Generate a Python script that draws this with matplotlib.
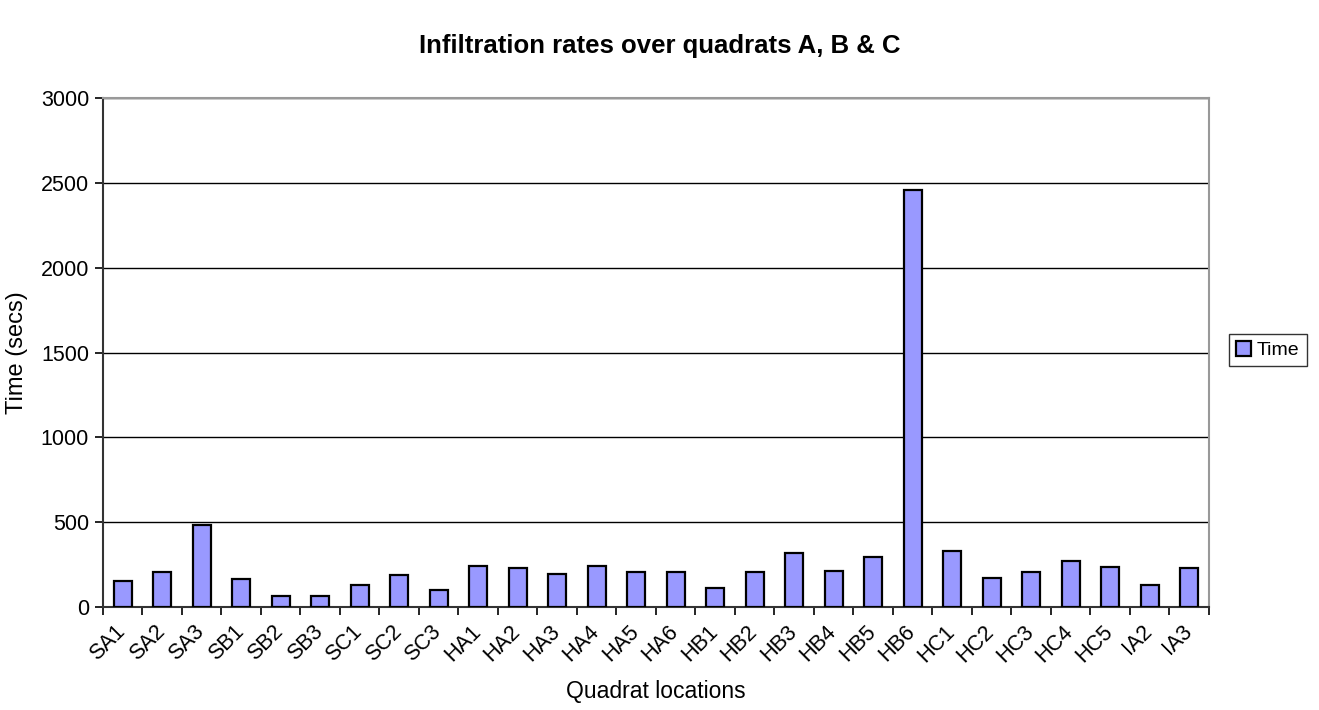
import numpy as np
import matplotlib
matplotlib.use('Agg')
import matplotlib.pyplot as plt
import matplotlib.transforms as mtransforms

plt.rcParams['font.family'] = ['Liberation Sans', 'DejaVu Sans']

locations = ['SA1', 'SA2', 'SA3', 'SB1', 'SB2', 'SB3', 'SC1', 'SC2', 'SC3',
             'HA1', 'HA2', 'HA3', 'HA4', 'HA5', 'HA6',
             'HB1', 'HB2', 'HB3', 'HB4', 'HB5', 'HB6',
             'HC1', 'HC2', 'HC3', 'HC4', 'HC5', 'IA2', 'IA3']
times = [156, 204, 482, 164, 65, 65, 128, 189, 103,
         239, 231, 194, 239, 207, 207,
         111, 207, 316, 215, 297, 2455,
         333, 172, 206, 269, 237, 129, 231]
y_ticks = [0, 500, 1000, 1500, 2000, 2500, 3000]


def plot_infiltration():
    fig = plt.figure(figsize=(13.19, 7.10), dpi=100)
    ax = fig.add_axes([0.078, 0.145, 0.8386, 0.717])

    x = np.arange(len(locations))
    ax.bar(x, times, width=0.45, color='#9999FF', edgecolor='black',
           linewidth=1.6, label='Time', zorder=3)

    ax.set_xlim(-0.5, len(locations) - 0.5)
    ax.set_ylim(0, 3000)
    ax.set_yticks(y_ticks)
    ax.yaxis.grid(True, color='black', linewidth=1.0, zorder=0)

    # category ticks sit between bars, labels under bar centres
    ax.set_xticks(np.arange(-0.5, len(locations) + 0.5, 1.0))
    ax.set_xticklabels([])
    ax.set_xticks(x, minor=True)
    ax.set_xticklabels(locations, minor=True, rotation=45, ha='right',
                       rotation_mode='anchor', fontsize=15.5)
    ax.tick_params(axis='x', which='minor', length=0, pad=10)
    ax.tick_params(axis='x', which='major', length=6, width=1.2, direction='out')
    ax.tick_params(axis='y', length=6, width=1.2, direction='out',
                   labelsize=15.5, pad=4)
    shift = mtransforms.ScaledTranslation(-8 / 100, 0, fig.dpi_scale_trans)
    for lbl in ax.get_xticklabels(minor=True):
        lbl.set_transform(lbl.get_transform() + shift)

    for side in ['left', 'bottom']:
        ax.spines[side].set_color('#333333')
        ax.spines[side].set_linewidth(1.5)
    for side in ['top', 'right']:
        ax.spines[side].set_color('#999999')
        ax.spines[side].set_linewidth(1.5)

    ax.set_xlabel('Quadrat locations', fontsize=16.5, labelpad=10)
    ax.set_ylabel('Time (secs)', fontsize=17, labelpad=9)
    fig.suptitle('Infiltration rates over quadrats A, B & C', fontsize=18.5,
                 fontweight='bold', y=0.952)

    leg = ax.legend(loc='center left', bbox_to_anchor=(1.018, 0.505),
                    fontsize=14, frameon=True, fancybox=False,
                    handlelength=0.8, handleheight=0.8, handletextpad=0.3,
                    borderpad=0.35, borderaxespad=0)
    leg.get_frame().set_edgecolor('black')
    leg.get_frame().set_linewidth(1.0)

    fig.savefig('out.png', dpi=100)


if __name__ == '__main__':
    plot_infiltration()
